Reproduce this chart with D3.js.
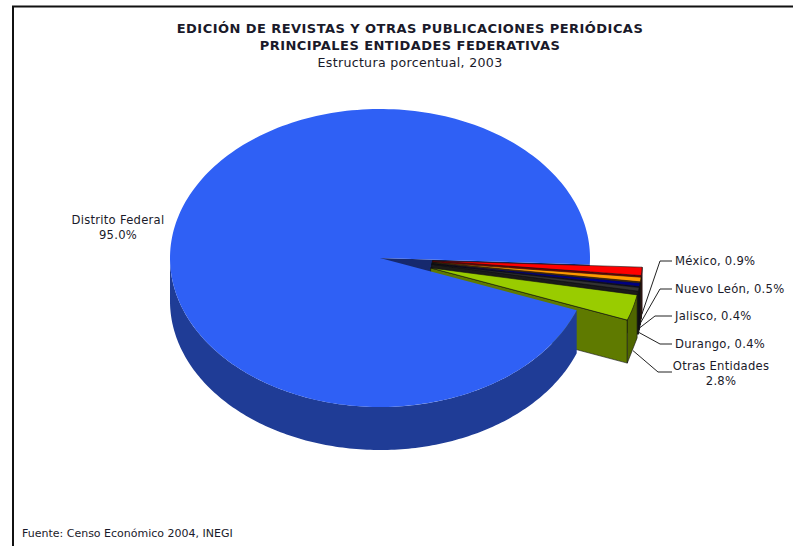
<!DOCTYPE html>
<html lang="es">
<head>
<meta charset="utf-8">
<title>Edición de revistas y otras publicaciones periódicas</title>
<script src="https://cdn.jsdelivr.net/npm/d3@7/dist/d3.min.js"></script>
<style>
  html, body { margin: 0; padding: 0; background: #fff; }
  svg { display: block; }
  text { font-family: "DejaVu Sans", Verdana, sans-serif; fill: #1a1a2a; }
</style>
</head>
<body>
<svg id="chart" width="793" height="546"></svg>
<script>
// Participación por entidad federativa, 2003
const entities = ["Distrito Federal", "México", "Nuevo León", "Jalisco", "Durango", "Otras Entidades"];
const shares = [95.0, 0.9, 0.5, 0.4, 0.4, 2.8];
const shareLabels = ["95.0%", "0.9%", "0.5%", "0.4%", "0.4%", "2.8%"];
const topColors = ["#2f60f5", "#ff0000", "#ff9900", "#000080", "#333333", "#99cc00"];
const wallColors = ["#1f3c96", "#800000", "#805000", "#000040", "#1a1a1a", "#5f7a00"];
const titleLines = [
  "EDICIÓN DE REVISTAS Y OTRAS PUBLICACIONES PERIÓDICAS",
  "PRINCIPALES ENTIDADES FEDERATIVAS"
];
const subtitle = "Estructura porcentual, 2003";
const source = "Fuente: Censo Económico 2004, INEGI";

const W = 793, H = 546;
const cx = 380, cy = 258, rx = 210, ry = 149, depth = 43, explode = 0.25;

const svg = d3.select("#chart");

// Marco: sólo los bordes superior e izquierdo quedan dentro de la página
svg.append("path")
  .attr("d", `M13,${H}V6.5H${W}`)
  .attr("fill", "none").attr("stroke", "#111").attr("stroke-width", 2);

// Títulos
const titles = svg.append("g").attr("text-anchor", "middle");
titles.selectAll("text.t").data(titleLines).join("text")
  .attr("class", "t")
  .attr("x", 410).attr("y", (d, i) => 33 + i * 17)
  .attr("font-size", 13).attr("letter-spacing", 0.45).attr("font-weight", "bold").text(d => d);
titles.append("text").attr("x", 410).attr("y", 67).attr("font-size", 12.6).attr("letter-spacing", 0.3).text(subtitle);
svg.append("text").attr("x", 22).attr("y", 537).attr("font-size", 11).text(source);

// Ángulos: el pastel arranca en el borde inferior de la muesca y gira en sentido horario
const pie = d3.pie().sort(null).startAngle(110.5 * Math.PI / 180).endAngle((110.5 + 360) * Math.PI / 180);
const arcs = pie(shares).map((a, i) => {
  const mid = (a.startAngle + a.endAngle) / 2;
  const e = i === 0 ? 0 : explode;
  return { ...a, i, mid, ox: cx + e * rx * Math.sin(mid), oy: cy - e * ry * Math.cos(mid) };
});

// Punto de la elipse superior de una rebanada para un ángulo dado
const rim = (a, ang, dz = 0) => [a.ox + rx * Math.sin(ang), a.oy - ry * Math.cos(ang) + dz];

function topPath(a) {
  const p = d3.path(), steps = Math.max(2, Math.ceil((a.endAngle - a.startAngle) * 40));
  p.moveTo(a.ox, a.oy);
  d3.range(steps + 1).forEach(k => {
    const [x, y] = rim(a, a.startAngle + (a.endAngle - a.startAngle) * k / steps);
    p.lineTo(x, y);
  });
  p.closePath();
  return p.toString();
}

// Pared curva, limitada a la parte orientada hacia el observador
function rimWall(a) {
  const lo = Math.max(a.startAngle, Math.PI / 2);
  const hi = Math.min(a.endAngle, 1.5 * Math.PI);
  const p = d3.path();
  const n = Math.max(2, Math.ceil((hi - lo) * 60));
  const angles = d3.range(n + 1).map(k => lo + (hi - lo) * k / n);
  angles.forEach((ang, k) => { const [x, y] = rim(a, ang); k ? p.lineTo(x, y) : p.moveTo(x, y); });
  angles.slice().reverse().forEach(ang => { const [x, y] = rim(a, ang, depth); p.lineTo(x, y); });
  p.closePath();
  return p.toString();
}

// Pared recta entre el centro y el borde, en el ángulo indicado
function sideWall(a, ang) {
  const [x, y] = rim(a, ang);
  const p = d3.path();
  p.moveTo(a.ox, a.oy); p.lineTo(x, y); p.lineTo(x, y + depth); p.lineTo(a.ox, a.oy + depth); p.closePath();
  return p.toString();
}

const central = arcs[0], small = arcs.slice(1);
const leaders = svg.append("g"), walls = svg.append("g"), tops = svg.append("g");

// Líneas guía: salen del pie de la pared, por debajo de las rebanadas
const labelRows = [261, 289, 316, 344, 372];
const elbowX = [660, 660, 655, 660, 658];
const leaderData = small.map((a, k) => {
  const [x, y] = rim(a, a.mid, depth);
  return [[x, y], [elbowX[k], labelRows[k]], [672, labelRows[k]]];
});
leaders.selectAll("path").data(leaderData).join("path")
  .attr("d", d3.line())
  .attr("fill", "none").attr("stroke", "#222").attr("stroke-width", 1);

// Pared trasera de la muesca del pastel principal
walls.append("path").attr("d", sideWall(central, central.endAngle)).attr("fill", "#16296e");

// Paredes de las rebanadas separadas, de atrás hacia adelante
small.forEach(a => {
  const g = walls.append("g").attr("fill", wallColors[a.i]).attr("stroke", "#111").attr("stroke-width", 0.6);
  g.append("path").attr("d", sideWall(a, a.endAngle));
  g.append("path").attr("fill", d3.color(wallColors[a.i]).darker(0.5))
    .attr("d", (() => {
      const [x0, y0] = rim(a, a.startAngle), [x1, y1] = rim(a, a.endAngle);
      return `M${x0},${y0}L${x1},${y1}L${x1},${y1 + depth}L${x0},${y0 + depth}Z`;
    })());
});

// Pared curva del pastel principal, por delante de las paredes anteriores
walls.append("path").attr("d", rimWall(central)).attr("fill", wallColors[0]);

// Caras superiores
tops.append("path").attr("d", topPath(central)).attr("fill", topColors[0]);
tops.selectAll("path.s").data(small).join("path")
  .attr("class", "s")
  .attr("d", topPath)
  .attr("fill", d => topColors[d.i])
  .attr("stroke", "#111").attr("stroke-width", 0.6);

// Etiquetas de datos
const labels = svg.append("g").attr("font-size", 11.6).attr("letter-spacing", 0.25);
labels.append("text").attr("text-anchor", "middle")
  .selectAll("tspan").data([entities[0], shareLabels[0]]).join("tspan")
  .attr("x", 118).attr("y", (d, i) => 224 + i * 15).text(d => d);
[1, 2, 3, 4].forEach((i, k) => {
  labels.append("text").attr("x", 675).attr("y", labelRows[k] + 4)
    .text(`${entities[i]}, ${shareLabels[i]}`);
});
labels.append("text").attr("text-anchor", "middle")
  .selectAll("tspan").data([entities[5], shareLabels[5]]).join("tspan")
  .attr("x", 721).attr("y", (d, i) => 370 + i * 15).text(d => d);
</script>
</body>
</html>
